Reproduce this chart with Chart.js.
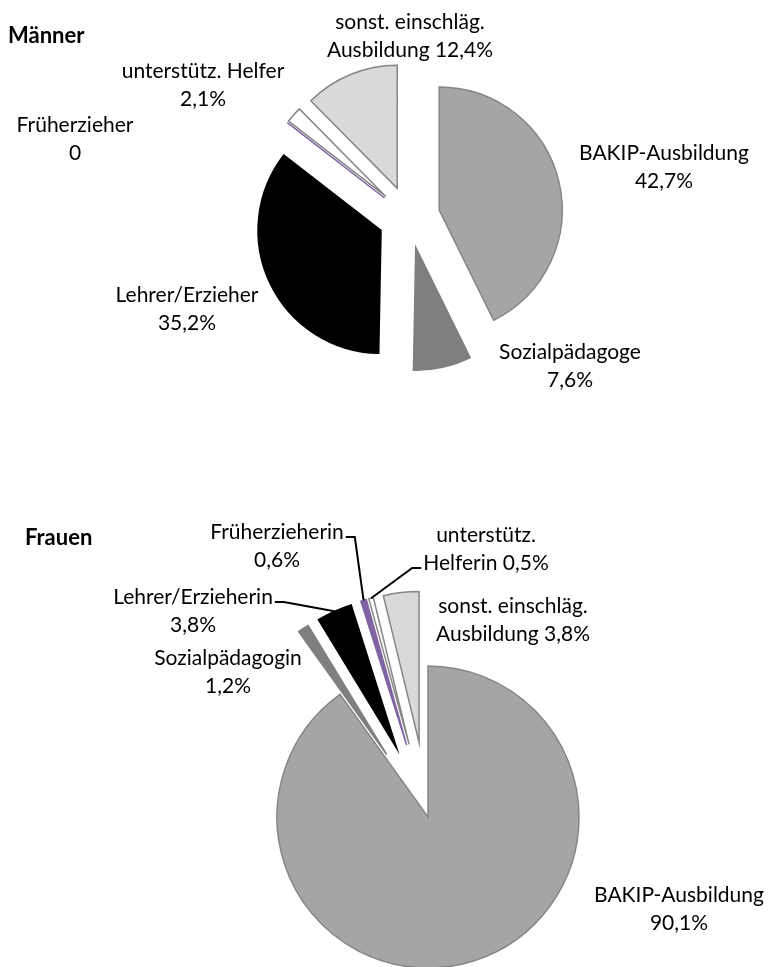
<!DOCTYPE html>
<html>
<head>
<meta charset="utf-8">
<script src="https://cdn.jsdelivr.net/npm/chart.js@4"></script>
<style>
  body { margin: 0; background: #fff; overflow: hidden; }
  #wrap-men { position: absolute; left: 0; top: 0; width: 771px; height: 450px; }
  #wrap-women { position: absolute; left: 0; top: 450px; width: 771px; height: 517px; }
</style>
</head>
<body>
<div id="wrap-men"><canvas id="chartMen"></canvas></div>
<div id="wrap-women"><canvas id="chartWomen"></canvas></div>
<script>
// data
const categoriesMen = ['BAKIP-Ausbildung', 'Sozialpädagoge', 'Lehrer/Erzieher', 'Früherzieher', 'unterstütz. Helfer', 'sonst. einschläg. Ausbildung'];
const valuesMen = [42.7, 7.6, 35.2, 0, 2.1, 12.4];
const labelLinesMen = [
    ['BAKIP-Ausbildung', '42,7%'],
    ['Sozialpädagoge', '7,6%'],
    ['Lehrer/Erzieher', '35,2%'],
    ['Früherzieher', '0'],
    ['unterstütz. Helfer', '2,1%'],
    ['sonst. einschläg.', 'Ausbildung 12,4%']
];

const categoriesWomen = ['BAKIP-Ausbildung', 'Sozialpädagogin', 'Lehrer/Erzieherin', 'Früherzieherin', 'unterstütz. Helferin', 'sonst. einschläg. Ausbildung'];
const valuesWomen = [90.1, 1.2, 3.8, 0.6, 0.5, 3.8];
const labelLinesWomen = [
    ['BAKIP-Ausbildung', '90,1%'],
    ['Sozialpädagogin', '1,2%'],
    ['Lehrer/Erzieherin', '3,8%'],
    ['Früherzieherin', '0,6%'],
    ['unterstütz.', 'Helferin 0,5%'],
    ['sonst. einschläg.', 'Ausbildung 3,8%']
];

// styles
const sliceColors = ['#a5a5a5', '#7f7f7f', '#000000', '#8064a2', '#ffffff', '#d9d9d9'];
const sliceBorders = ['#868686', '#7f7f7f', '#000000', '#8064a2', '#868686', '#868686'];
const FONT = '21px Lato';
const TITLE_FONT = 'bold 22px Lato';
const LINE_H = 28;

// how far each slice is pulled out (px)
const explodeMen = [31, 31, 31, 31, 31, 31];
const explodeWomen = [0, 75, 75, 75, 75, 75];

// label centres, relative to pie centre
const labelPosMen = [[255, -64], [161, 135], [-222, 78], [-334, -92], [-206, -146], [1, -195]];
const labelPosWomen = [[251, 78], [-200, -159], [-235, -220], [-151, -285], [58, -282], [85, -211]];
// leader lines: [slice index, label line, side]
const leadersWomen = [[2, 0, 'right'], [3, 0, 'right'], [4, 1, 'left']];

function makeDecor(title, titlePos, lines, pos, leaders, explode) {
    return {
        id: 'decor',
        beforeDatasetsDraw(chart) {
            // pull slices out along their bisector without changing radius or angle
            chart.getDatasetMeta(0).data.forEach((arc, i) => {
                if (arc._exploded) return;
                const baseDraw = arc.draw;
                arc.draw = function(ctx, area) {
                    const mid = (this.startAngle + this.endAngle) / 2;
                    ctx.save();
                    ctx.translate(Math.cos(mid) * explode[i], Math.sin(mid) * explode[i]);
                    baseDraw.call(this, ctx, area);
                    ctx.restore();
                };
                arc._exploded = true;
            });
        },
        afterDatasetsDraw(chart) {
            const ctx = chart.ctx;
            const R = chart.options.radius;
            const arcs = chart.getDatasetMeta(0).data;
            const cx = arcs[0].x, cy = arcs[0].y;
            ctx.save();

            // zero slices as a thin line
            arcs.forEach((arc, i) => {
                if (arc.circumference !== 0) return;
                const t = explode[i];
                const a = arc.startAngle;
                ctx.strokeStyle = arc.options.backgroundColor;
                ctx.lineWidth = 1.5;
                ctx.beginPath();
                ctx.moveTo(cx + Math.cos(a) * t, cy + Math.sin(a) * t);
                ctx.lineTo(cx + Math.cos(a) * (t + R), cy + Math.sin(a) * (t + R));
                ctx.stroke();
            });

            ctx.fillStyle = '#000';
            ctx.textBaseline = 'middle';
            ctx.font = TITLE_FONT;
            ctx.textAlign = 'left';
            ctx.fillText(title, cx + titlePos[0], cy + titlePos[1]);

            ctx.font = FONT;
            ctx.textAlign = 'center';
            lines.forEach((ls, i) => {
                ls.forEach((s, j) => {
                    ctx.fillText(s, cx + pos[i][0], cy + pos[i][1] + j * LINE_H);
                });
            });

            ctx.strokeStyle = '#000';
            ctx.lineWidth = 2;
            leaders.forEach(([i, j, side]) => {
                const arc = arcs[i];
                const w = ctx.measureText(lines[i][j]).width;
                const ly = cy + pos[i][1] + j * LINE_H + 5;
                const dir = side === 'right' ? 1 : -1;
                const lx = cx + pos[i][0] + dir * (w / 2 + 2);
                const mid = (arc.startAngle + arc.endAngle) / 2;
                const t = explode[i];
                ctx.beginPath();
                ctx.moveTo(lx, ly);
                ctx.lineTo(lx + dir * 9, ly);
                ctx.lineTo(cx + Math.cos(mid) * (t + R), cy + Math.sin(mid) * (t + R));
                ctx.stroke();
            });
            ctx.restore();
        }
    };
}

function pieConfig(labels, values, radius, padding, decor) {
    return {
        type: 'pie',
        data: {
            labels: labels,
            datasets: [{
                data: values,
                backgroundColor: sliceColors,
                borderColor: sliceBorders,
                borderWidth: 1.5,
                borderJoinStyle: 'miter',
                clip: false
            }]
        },
        options: {
            responsive: true,
            maintainAspectRatio: false,
            animation: false,
            events: [],
            radius: radius,
            layout: { padding: padding },
            plugins: {
                legend: { display: false },
                tooltip: { enabled: false }
            }
        },
        plugins: [decor]
    };
}

const ctx1 = document.getElementById('chartMen').getContext('2d');
new Chart(ctx1, pieConfig(categoriesMen, valuesMen, 123,
    { left: 47, right: 0, top: 0, bottom: 16 },
    makeDecor('Männer', [-401, -181], labelLinesMen, labelPosMen, [], explodeMen)));

const ctx2 = document.getElementById('chartWomen').getContext('2d');
new Chart(ctx2, pieConfig(categoriesWomen, valuesWomen, 151,
    { left: 85, right: 0, top: 217, bottom: 0 },
    makeDecor('Frauen', [-403, -279], labelLinesWomen, labelPosWomen, leadersWomen, explodeWomen)));
</script>
</body>
</html>
